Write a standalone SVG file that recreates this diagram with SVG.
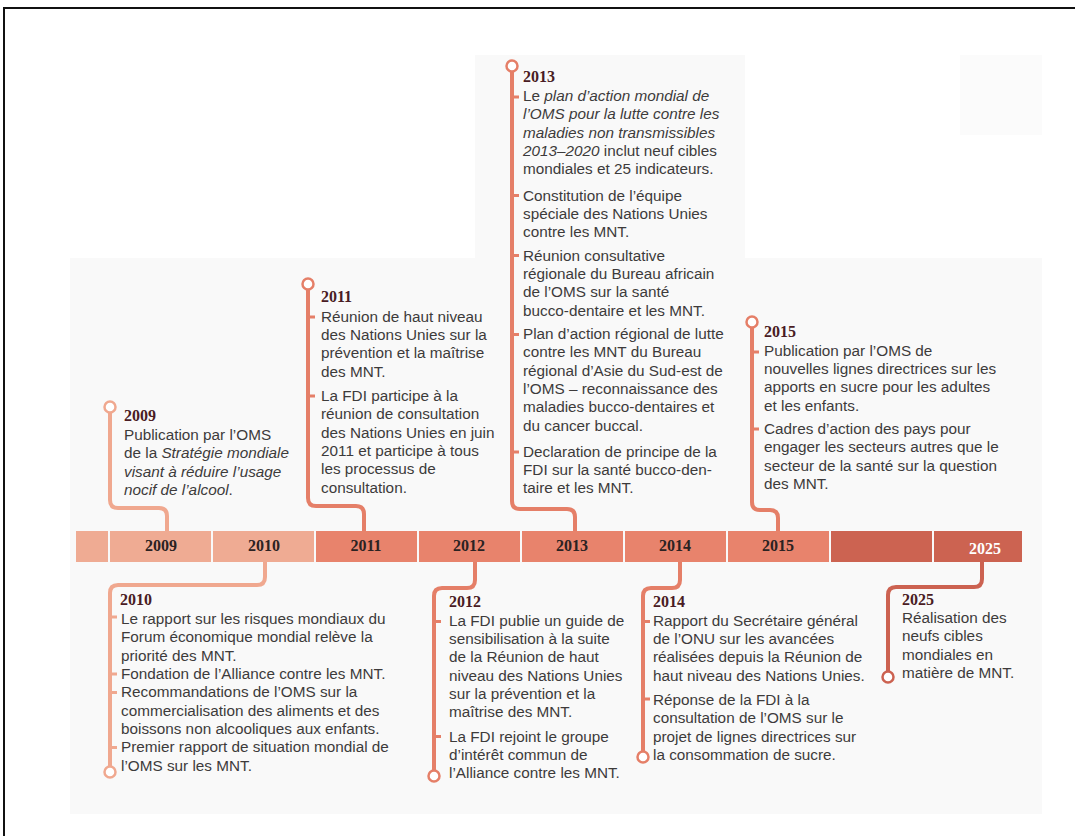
<svg xmlns="http://www.w3.org/2000/svg" width="1075" height="836" viewBox="0 0 1075 836">
<style>
.body{font-family:"Liberation Sans",Arial,sans-serif;font-size:15.3px;fill:#3d3b3b}
.yr{font-family:"Liberation Serif","Times New Roman",serif;font-weight:bold;font-size:16px;fill:#4a1c24}
.bar{font-family:"Liberation Serif","Times New Roman",serif;font-weight:bold;font-size:16px;fill:#2b2222;text-anchor:middle}
.it{font-style:italic}
.c1{fill:none;stroke:#f0a88f;stroke-width:4}
.c2{fill:none;stroke:#e57f68;stroke-width:4}
.c3{fill:none;stroke:#cc6251;stroke-width:4}
.dot1{fill:#fff;stroke:#f0a88f;stroke-width:2.5}
.dot2{fill:#fff;stroke:#e57f68;stroke-width:2.5}
.dot3{fill:#fff;stroke:#cc6251;stroke-width:2.5}
.t1{stroke:#f0a88f;stroke-width:3}
.t2{stroke:#e57f68;stroke-width:3}
.s1{fill:#efab93}
.s2{fill:#e8836c}
.s3{fill:#cc6351}
</style>
<rect x="0" y="0" width="1075" height="836" fill="#ffffff"/>
<g id="panel" fill="#f9f9f9">
<rect x="70" y="258" width="972" height="556"/>
<rect x="475" y="55" width="270" height="204"/>
<rect x="960" y="55" width="82" height="80" fill="#fbfbfb"/>
</g>
<rect x="4" y="8" width="1080" height="840" fill="none" stroke="#111" stroke-width="2"/>

<g id="connectors">
<path class="c1" d="M110,413 V500 Q110,508 118,508 H159 Q167,508 167,516 V531"/>
<path class="c2" d="M308,290 V498 Q308,506 316,506 H356 Q364,506 364,514 V531"/>
<path class="c2" d="M512,72 V501 Q512,509 520,509 H567 Q575,509 575,517 V531"/>
<path class="c2" d="M752,328 V502 Q752,510 760,510 H770 Q778,510 778,518 V531"/>
<path class="c1" d="M265,562 V577 Q265,585 257,585 H118 Q110,585 110,593 V766"/>
<path class="c2" d="M475,562 V580 Q475,588 467,588 H442 Q434,588 434,596 V770"/>
<path class="c2" d="M680,562 V580 Q680,588 672,588 H651 Q643,588 643,596 V751"/>
<path class="c3" d="M982,562 V579 Q982,587 974,587 H896 Q888,587 888,595 V671"/>
</g>

<g id="timeline">
<rect class="s1" x="76" y="531" width="32" height="31"/>
<g id="bar-2009"><rect class="s1" x="110" y="531" width="101" height="31"/><text class="bar" x="161" y="551">2009</text></g>
<g id="bar-2010"><rect class="s1" x="213" y="531" width="101" height="31"/><text class="bar" x="264" y="551">2010</text></g>
<g id="bar-2011"><rect class="s2" x="316" y="531" width="101" height="31"/><text class="bar" x="366" y="551">2011</text></g>
<g id="bar-2012"><rect class="s2" x="419" y="531" width="101" height="31"/><text class="bar" x="469" y="551">2012</text></g>
<g id="bar-2013"><rect class="s2" x="522" y="531" width="101" height="31"/><text class="bar" x="572" y="551">2013</text></g>
<g id="bar-2014"><rect class="s2" x="625" y="531" width="101" height="31"/><text class="bar" x="675" y="551">2014</text></g>
<g id="bar-2015"><rect class="s2" x="728" y="531" width="101" height="31"/><text class="bar" x="778" y="551">2015</text></g>
<rect class="s3" x="831" y="531" width="101" height="31"/>
<g id="bar-2025"><rect class="s3" x="934" y="531" width="88" height="31"/><text class="bar" x="985" y="554" style="fill:#ffffff">2025</text></g>
</g>

<g id="event-2009">
<circle class="dot1" cx="110" cy="407" r="5.5"/>
<text class="yr" x="124" y="421">2009</text>
<text class="body" x="124" y="440">Publication par l’OMS</text>
<text class="body" x="124" y="458.3">de la <tspan class="it">Stratégie mondiale</tspan></text>
<text class="body it" x="124" y="476.7">visant à réduire l’usage</text>
<text class="body" x="124" y="495"><tspan class="it">nocif de l’alcool</tspan>.</text>
</g>

<g id="event-2011">
<circle class="dot2" cx="308" cy="284" r="5.5"/>
<path class="t2" d="M308,317 h7 M308,396 h7"/>
<text class="yr" x="321" y="302">2011</text>
<text class="body" x="321" y="321.7">Réunion de haut niveau</text>
<text class="body" x="321" y="340">des Nations Unies sur la</text>
<text class="body" x="321" y="358.3">prévention et la maîtrise</text>
<text class="body" x="321" y="376.7">des MNT.</text>
<text class="body" x="321" y="401">La FDI participe à la</text>
<text class="body" x="321" y="419.3">réunion de consultation</text>
<text class="body" x="321" y="437.7">des Nations Unies en juin</text>
<text class="body" x="321" y="456">2011 et participe à tous</text>
<text class="body" x="321" y="474.3">les processus de</text>
<text class="body" x="321" y="492.7">consultation.</text>
</g>

<g id="event-2013">
<circle class="dot2" cx="512" cy="66" r="5.5"/>
<path class="t2" d="M512,97 h7 M512,195.5 h7 M512,255.5 h7 M512,334.5 h7 M512,452 h7"/>
<text class="yr" x="523" y="82">2013</text>
<text class="body" x="523" y="101">Le <tspan class="it">plan d’action mondial de</tspan></text>
<text class="body it" x="523" y="119.3">l’OMS pour la lutte contre les</text>
<text class="body it" x="523" y="137.7">maladies non transmissibles</text>
<text class="body" x="523" y="156"><tspan class="it">2013–2020</tspan> inclut neuf cibles</text>
<text class="body" x="523" y="174.3">mondiales et 25 indicateurs.</text>
<text class="body" x="523" y="200.7">Constitution de l’équipe</text>
<text class="body" x="523" y="219">spéciale des Nations Unies</text>
<text class="body" x="523" y="237.3">contre les MNT.</text>
<text class="body" x="523" y="260.7">Réunion consultative</text>
<text class="body" x="523" y="279">régionale du Bureau africain</text>
<text class="body" x="523" y="297.3">de l’OMS sur la santé</text>
<text class="body" x="523" y="315.7">bucco-dentaire et les MNT.</text>
<text class="body" x="523" y="339">Plan d’action régional de lutte</text>
<text class="body" x="523" y="357.3">contre les MNT du Bureau</text>
<text class="body" x="523" y="375.7">régional d’Asie du Sud-est de</text>
<text class="body" x="523" y="394">l’OMS – reconnaissance des</text>
<text class="body" x="523" y="412.3">maladies bucco-dentaires et</text>
<text class="body" x="523" y="430.7">du cancer buccal.</text>
<text class="body" x="523" y="456.7">Declaration de principe de la</text>
<text class="body" x="523" y="475">FDI sur la santé bucco-den-</text>
<text class="body" x="523" y="493.3">taire et les MNT.</text>
</g>

<g id="event-2015">
<circle class="dot2" cx="752" cy="322" r="5.5"/>
<path class="t2" d="M752,352 h7 M752,429 h7"/>
<text class="yr" x="764" y="337">2015</text>
<text class="body" x="764" y="355.7">Publication par l’OMS de</text>
<text class="body" x="764" y="374">nouvelles lignes directrices sur les</text>
<text class="body" x="764" y="392.3">apports en sucre pour les adultes</text>
<text class="body" x="764" y="410.7">et les enfants.</text>
<text class="body" x="764" y="434">Cadres d’action des pays pour</text>
<text class="body" x="764" y="452.3">engager les secteurs autres que le</text>
<text class="body" x="764" y="470.7">secteur de la santé sur la question</text>
<text class="body" x="764" y="489">des MNT.</text>
</g>

<g id="event-2010">
<circle class="dot1" cx="110" cy="772" r="5.5"/>
<path class="t1" d="M110,617 h7 M110,674 h7 M110,692.5 h7 M110,747.5 h7"/>
<text class="yr" x="120" y="605">2010</text>
<text class="body" x="121" y="624">Le rapport sur les risques mondiaux du</text>
<text class="body" x="121" y="642.3">Forum économique mondial relève la</text>
<text class="body" x="121" y="660.7">priorité des MNT.</text>
<text class="body" x="121" y="679">Fondation de l’Alliance contre les MNT.</text>
<text class="body" x="121" y="697.3">Recommandations de l’OMS sur la</text>
<text class="body" x="121" y="715.7">commercialisation des aliments et des</text>
<text class="body" x="121" y="734">boissons non alcooliques aux enfants.</text>
<text class="body" x="121" y="752.3">Premier rapport de situation mondial de</text>
<text class="body" x="121" y="770.7">l’OMS sur les MNT.</text>
</g>

<g id="event-2012">
<circle class="dot2" cx="434" cy="776" r="5.5"/>
<path class="t2" d="M434,621.5 h7 M434,736.5 h7"/>
<text class="yr" x="449" y="607">2012</text>
<text class="body" x="449" y="625.7">La FDI publie un guide de</text>
<text class="body" x="449" y="644">sensibilisation à la suite</text>
<text class="body" x="449" y="662.3">de la Réunion de haut</text>
<text class="body" x="449" y="680.7">niveau des Nations Unies</text>
<text class="body" x="449" y="699">sur la prévention et la</text>
<text class="body" x="449" y="717.3">maîtrise des MNT.</text>
<text class="body" x="449" y="741.7">La FDI rejoint le groupe</text>
<text class="body" x="449" y="760">d’intérêt commun de</text>
<text class="body" x="449" y="778.3">l’Alliance contre les MNT.</text>
</g>

<g id="event-2014">
<circle class="dot2" cx="643" cy="757" r="5.5"/>
<path class="t2" d="M643,621.5 h7 M643,699 h7"/>
<text class="yr" x="653" y="607">2014</text>
<text class="body" x="653" y="625.7">Rapport du Secrétaire général</text>
<text class="body" x="653" y="644">de l’ONU sur les avancées</text>
<text class="body" x="653" y="662.3">réalisées depuis la Réunion de</text>
<text class="body" x="653" y="680.7">haut niveau des Nations Unies.</text>
<text class="body" x="653" y="705">Réponse de la FDI à la</text>
<text class="body" x="653" y="723.3">consultation de l’OMS sur le</text>
<text class="body" x="653" y="741.7">projet de lignes directrices sur</text>
<text class="body" x="653" y="760">la consommation de sucre.</text>
</g>

<g id="event-2025">
<circle class="dot3" cx="888" cy="677" r="5.5"/>
<text class="yr" x="902" y="605">2025</text>
<text class="body" x="902" y="623">Réalisation des</text>
<text class="body" x="902" y="641.3">neufs cibles</text>
<text class="body" x="902" y="659.7">mondiales en</text>
<text class="body" x="902" y="678">matière de MNT.</text>
</g>
</svg>
